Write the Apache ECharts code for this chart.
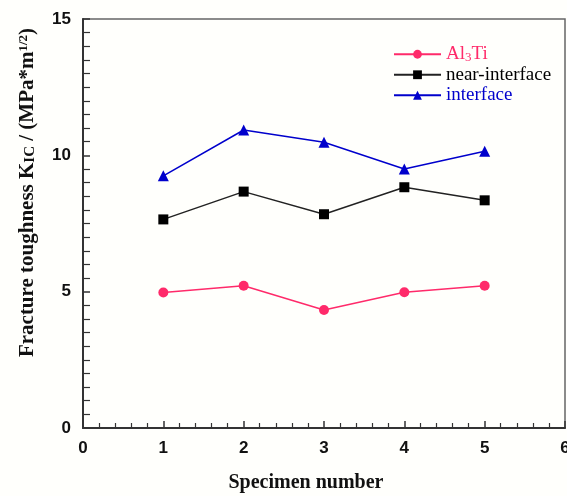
<!DOCTYPE html>
<html>
<head>
<meta charset="utf-8">
<script src="https://cdn.jsdelivr.net/npm/echarts@6/dist/echarts.min.js"></script>
<style>html,body{margin:0;padding:0;background:#fffffc;}#c{width:567px;height:496px;}</style>
</head>
<body>
<div id="c"></div>
<script>
var specimens = [1, 2, 3, 4, 5];
var al3ti = [4.97, 5.22, 4.33, 4.98, 5.22];
var nearInterface = [7.65, 8.67, 7.84, 8.83, 8.35];
var interfaceVals = [9.25, 10.93, 10.48, 9.50, 10.15];
var seriesNames = ['Al3Ti', 'near-interface', 'interface'];
var colors = ['#ff2a6a', '#000000', '#0000cc'];

function pairs(vals) { return specimens.map(function (s, i) { return [s, vals[i]]; }); }

var chart = echarts.init(document.getElementById('c'), null, { renderer: 'canvas' });
var serif = 'Liberation Serif';
var sans = 'Liberation Sans';
chart.setOption({
  backgroundColor: '#fffffc',
  animation: false,
  grid: { left: 83, right: 2, top: 19, bottom: 68, outerBoundsMode: 'none', containLabel: false,
          show: true, borderColor: '#666', borderWidth: 1.5, backgroundColor: 'transparent' },
  legend: {
    orient: 'vertical', left: 388, top: 39, itemWidth: 47, itemHeight: 11, itemGap: 0,
    data: seriesNames.map(function (n, i) { return { name: n, textStyle: { color: colors[i] } }; }),
    formatter: function (n) { return n === 'Al3Ti' ? '{a|Al}{s|3}{a|Ti}' : n; },
    textStyle: {
      fontFamily: serif, fontSize: 19, lineHeight: 20.5,
      rich: {
        a: { fontFamily: serif, fontSize: 19, lineHeight: 20.5, color: colors[0] },
        s: { fontFamily: serif, fontSize: 13, lineHeight: 20.5, color: colors[0], verticalAlign: 'bottom', padding: [4, 0, 0, 0] }
      }
    }
  },
  xAxis: {
    type: 'value', min: 0, max: 6, interval: 1,
    name: 'Specimen number', nameLocation: 'middle', nameGap: 45,
    nameTextStyle: { fontFamily: serif, fontWeight: 'bold', fontSize: 20, color: '#111', padding: [0, 36, 0, 0] },
    axisLine: { lineStyle: { color: '#333', width: 2 } },
    axisTick: { inside: true, length: 7, lineStyle: { color: '#333', width: 1.5 } },
    minorTick: { show: true, splitNumber: 5, length: 5, lineStyle: { color: '#333', width: 1.2 } },
    axisLabel: { fontFamily: sans, fontWeight: 'bold', fontSize: 17, color: '#111', margin: 12 },
    splitLine: { show: false }
  },
  yAxis: {
    type: 'value', min: 0, max: 15, interval: 5,
    name: 'Fracture toughness K{sub|IC} / (MPa*m{sup|1/2})', nameLocation: 'middle', nameGap: 45,
    nameTextStyle: {
      fontFamily: serif, fontWeight: 'bold', fontSize: 21, color: '#111', padding: [0, 0, 0, 62],
      rich: {
        sub: { fontFamily: serif, fontWeight: 'bold', fontSize: 15, color: '#111', verticalAlign: 'bottom', padding: [3, 0, 0, 0] },
        sup: { fontFamily: serif, fontWeight: 'bold', fontSize: 13, color: '#111', verticalAlign: 'top', padding: [0, 0, 7, 0] }
      }
    },
    axisLine: { lineStyle: { color: '#333', width: 2 } },
    axisTick: { inside: true, length: 7, lineStyle: { color: '#333', width: 1.5 } },
    minorTick: { show: true, splitNumber: 10, length: 7, lineStyle: { color: '#333', width: 1.2 } },
    axisLabel: { fontFamily: sans, fontWeight: 'bold', fontSize: 17, color: '#111', margin: 12 },
    splitLine: { show: false }
  },
  series: [
    { name: seriesNames[0], type: 'line', data: pairs(al3ti), symbol: 'circle', symbolSize: 10,
      lineStyle: { color: colors[0], width: 1.5 }, itemStyle: { color: colors[0] } },
    { name: seriesNames[1], type: 'line', data: pairs(nearInterface), symbol: 'rect', symbolSize: 10,
      lineStyle: { color: '#222', width: 1.5 }, itemStyle: { color: colors[1] } },
    { name: seriesNames[2], type: 'line', data: pairs(interfaceVals), symbol: 'triangle', symbolSize: 11,
      lineStyle: { color: colors[2], width: 1.5 }, itemStyle: { color: colors[2] } }
  ]
});
</script>
</body>
</html>
